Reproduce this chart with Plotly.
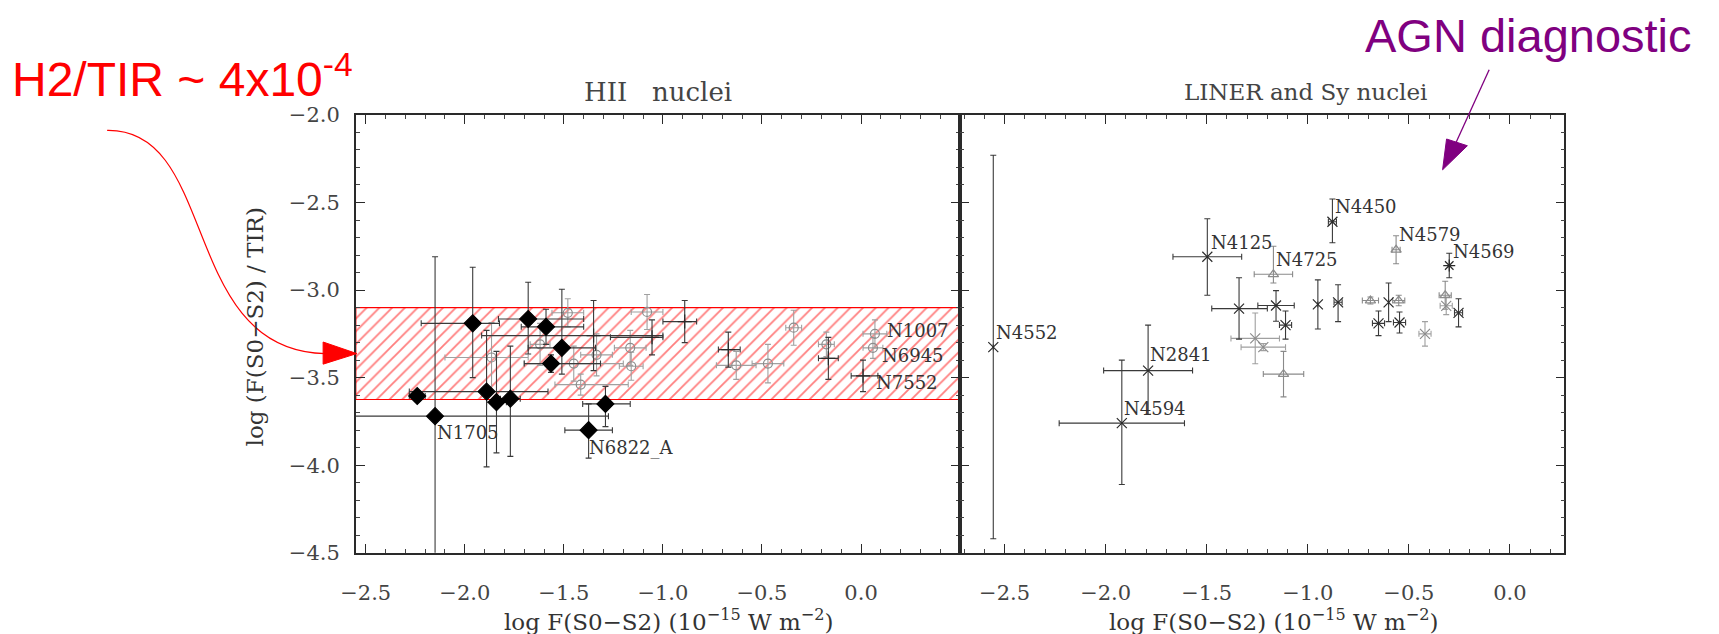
import plotly.graph_objects as go

W, H = 1719, 634

# ---------------- data: HII nuclei (left panel) ----------------
hii_dia_names = ["N1705", "", "", "", "", "", "", "", "", "", "", "N6822_A"]
hii_dia_x = [-2.15, -1.96, -1.68, -1.59, -1.51, -1.565, -2.24, -1.89, -1.84, -1.77, -1.29, -1.375]
hii_dia_y = [-3.72, -3.19, -3.165, -3.21, -3.33, -3.42, -3.605, -3.58, -3.64, -3.62, -3.65, -3.80]
hii_dia_exm = [0.90, 0.26, 0.15, 0.125, 0.17, 0.135, 0.04, 0.39, 0.05, 0.05, 0.115, 0.12]
hii_dia_exp = [0.875, 0.135, 0.28, 0.19, 0.17, 0.25, 0.04, 0.31, 0.05, 0.05, 0.125, 0.12]
hii_dia_eym = [0.90, 0.31, 0.20, 0.10, 0.15, 0.05, 0.03, 0.43, 0.29, 0.33, 0.13, 0.16]
hii_dia_eyp = [0.91, 0.32, 0.21, 0.10, 0.335, 0.05, 0.03, 0.35, 0.29, 0.30, 0.10, 0.15]

hii_circ_names = ["", "", "", "", "", "", "", "", "", "", "", "", "", "N1007", "N6945"]
hii_circ_x = [-1.62, -1.865, -1.45, -1.335, -1.165, -1.16, -1.08, -1.48, -1.415, -0.63, -0.47, -0.34, -0.175, 0.07, 0.06]
hii_circ_y = [-3.31, -3.385, -3.42, -3.37, -3.33, -3.435, -3.125, -3.13, -3.54, -3.43, -3.42, -3.215, -3.31, -3.25, -3.33]
hii_circ_exm = [0.05, 0.235, 0.25, 0.08, 0.08, 0.06, 0.08, 0.08, 0.13, 0.10, 0.08, 0.04, 0.04, 0.06, 0.05]
hii_circ_exp = [0.05, 0.185, 0.25, 0.08, 0.08, 0.06, 0.08, 0.08, 0.24, 0.10, 0.08, 0.04, 0.04, 0.06, 0.05]
hii_circ_ey = [0.12, 0.20, 0.10, 0.12, 0.10, 0.08, 0.10, 0.08, 0.06, 0.08, 0.11, 0.10, 0.07, 0.08, 0.06]

hii_plus_names = ["", "", "", "", "", "N7552"]
hii_plus_x = [-1.35, -1.055, -0.89, -0.67, -0.165, 0.01]
hii_plus_y = [-3.26, -3.27, -3.18, -3.34, -3.39, -3.49]
hii_plus_exm = [0.565, 0.21, 0.11, 0.05, 0.05, 0.06]
hii_plus_exp = [0.35, 0.055, 0.06, 0.06, 0.05, 0.075]
hii_plus_ey = [0.20, 0.10, 0.12, 0.10, 0.12, 0.09]

band_y = [-3.10, -3.625]          # H2/TIR ~ 4e-4 band

# ---------------- data: LINER and Sy nuclei (right panel) ----------------
agn_x_names = ["N4552", "N2841", "N4594", "N4125", "", "", "", "", "", "N4450", "", "", "", ""]
agn_x_x = [-2.556, -1.79, -1.92, -1.497, -1.34, -1.157, -1.11, -0.95, -0.85, -0.878, -0.60, -0.65, -0.546, -0.254]
agn_x_y = [-3.326, -3.46, -3.76, -2.81, -3.106, -3.088, -3.20, -3.082, -3.07, -2.61, -3.07, -3.19, -3.185, -3.13]
agn_x_exm = [0.0, 0.22, 0.31, 0.17, 0.135, 0.09, 0.03, 0.0, 0.02, 0.02, 0.0, 0.03, 0.03, 0.02]
agn_x_exp = [0.0, 0.22, 0.31, 0.17, 0.14, 0.09, 0.03, 0.0, 0.02, 0.02, 0.0, 0.03, 0.03, 0.02]
agn_x_eym = [1.094, 0.25, 0.35, 0.22, 0.174, 0.09, 0.08, 0.14, 0.11, 0.12, 0.11, 0.07, 0.06, 0.08]
agn_x_eyp = [1.096, 0.26, 0.36, 0.217, 0.176, 0.085, 0.08, 0.14, 0.10, 0.13, 0.11, 0.07, 0.06, 0.08]

agn_gx_x = [-1.26, -1.22, -0.42, -0.315]
agn_gx_y = [-3.276, -3.326, -3.25, -3.09]
agn_gx_ex = [0.12, 0.11, 0.03, 0.03]
agn_gx_ey = [0.145, 0.02, 0.07, 0.05]

agn_tri_names = ["N4725", "", "", "", "N4579", ""]
agn_tri_x = [-1.17, -1.12, -0.69, -0.55, -0.563, -0.32]
agn_tri_y = [-2.91, -3.48, -3.06, -3.06, -2.77, -3.03]
agn_tri_ex = [0.095, 0.10, 0.04, 0.03, 0.02, 0.03]
agn_tri_eym = [0.05, 0.13, 0.02, 0.03, 0.08, 0.08]
agn_tri_eyp = [0.16, 0.13, 0.02, 0.03, 0.08, 0.08]

agn_ast_names = ["N4569"]
agn_ast_x = [-0.30]
agn_ast_y = [-2.86]
agn_ast_ey = [0.07]

xticks = [-2.5, -2.0, -1.5, -1.0, -0.5, 0.0]
xticktext = ["\u22122.5", "\u22122.0", "\u22121.5", "\u22121.0", "\u22120.5", "0.0"]
yticks = [-4.5, -4.0, -3.5, -3.0, -2.5, -2.0]
yticktext = ["\u22124.5", "\u22124.0", "\u22123.5", "\u22123.0", "\u22122.5", "\u22122.0"]

left_xrange = [-2.55, 0.5]
right_xrange = [-2.72, 0.27]
yrange = [-4.5, -2.0]

# ---------------- style ----------------
INK = "#2a2a2a"
GRAY = "#8c8c8c"
SERIF = "DejaVu Serif"
px_l, px_m, px_r = 343, 953, 1563
py_t, py_b = 107, 562


def fx(px):
    return px / W


def fy(py):
    return 1 - py / H


fig = go.Figure()


def add_pts(xs, ys, xa, ya, symbol, size, color, ecolor, exm=None, exp=None, eym=None, eyp=None,
            lw=1.2):
    marker = dict(symbol=symbol, size=size, color=color, line=dict(color=color, width=lw))
    kw = {}
    if exp is not None:
        kw["error_x"] = dict(type="data", symmetric=False, array=exp,
                             arrayminus=exm if exm is not None else exp,
                             color=ecolor, thickness=1.1, width=3)
    if eyp is not None:
        kw["error_y"] = dict(type="data", symmetric=False, array=eyp,
                             arrayminus=eym if eym is not None else eyp,
                             color=ecolor, thickness=1.1, width=3)
    fig.add_trace(go.Scatter(x=xs, y=ys, mode="markers", xaxis=xa, yaxis=ya,
                             marker=marker, showlegend=False, hoverinfo="skip", **kw))


# hatched band (left panel)
fig.add_trace(go.Scatter(
    x=[left_xrange[0], left_xrange[1], left_xrange[1], left_xrange[0], left_xrange[0]],
    y=[band_y[0], band_y[0], band_y[1], band_y[1], band_y[0]],
    mode="lines", fill="toself", xaxis="x", yaxis="y",
    line=dict(color="red", width=1.2),
    fillcolor="rgba(0,0,0,0)",
    fillpattern=dict(shape="/", fgcolor="red", bgcolor="rgba(255,255,255,0)", size=9, solidity=0.2),
    showlegend=False, hoverinfo="skip"))

# left panel points
add_pts(hii_circ_x, hii_circ_y, "x", "y", "circle-open", 9, GRAY, "#a0a0a0",
        hii_circ_exm, hii_circ_exp, hii_circ_ey, hii_circ_ey)
add_pts(hii_plus_x, hii_plus_y, "x", "y", "cross-thin", 10, INK, "#3a3a3a",
        hii_plus_exm, hii_plus_exp, hii_plus_ey, hii_plus_ey)
add_pts(hii_dia_x, hii_dia_y, "x", "y", "diamond", 13, "black", "#3a3a3a",
        hii_dia_exm, hii_dia_exp, hii_dia_eym, hii_dia_eyp)

# right panel points
add_pts(agn_gx_x, agn_gx_y, "x2", "y2", "x-thin", 10, GRAY, "#a0a0a0",
        agn_gx_ex, agn_gx_ex, agn_gx_ey, agn_gx_ey)
add_pts(agn_tri_x, agn_tri_y, "x2", "y2", "triangle-up-open", 9, GRAY, "#8a8a8a",
        agn_tri_ex, agn_tri_ex, agn_tri_eym, agn_tri_eyp)
add_pts(agn_x_x, agn_x_y, "x2", "y2", "x-thin", 10, INK, "#3a3a3a",
        agn_x_exm, agn_x_exp, agn_x_eym, agn_x_eyp)
add_pts(agn_ast_x, agn_ast_y, "x2", "y2", "asterisk", 10, INK, "#3a3a3a",
        None, None, agn_ast_ey, agn_ast_ey)

# point labels (offsets in pixels)
label_shift = {
    "N4552": (1, 15), "N2841": (0, 16), "N4594": (0, 15), "N4125": (2, 14),
    "N4725": (1, 15), "N4450": (1, 15), "N4579": (1, 15), "N4569": (2, 14),
    "N1705": (0, -16), "N6822_A": (-2, -18), "N1007": (10, 3), "N6945": (7, -8),
    "N7552": (11, -7),
}
LABEL_FONT = dict(family=SERIF, size=18, color="#333")
annotations = []
for names, xs, ys, xa, ya in [
    (hii_dia_names, hii_dia_x, hii_dia_y, "x", "y"),
    (hii_circ_names, hii_circ_x, hii_circ_y, "x", "y"),
    (hii_plus_names, hii_plus_x, hii_plus_y, "x", "y"),
    (agn_x_names, agn_x_x, agn_x_y, "x2", "y2"),
    (agn_tri_names, agn_tri_x, agn_tri_y, "x2", "y2"),
    (agn_ast_names, agn_ast_x, agn_ast_y, "x2", "y2"),
]:
    for n, xv, yv in zip(names, xs, ys):
        if n:
            dx, dy = label_shift[n]
            annotations.append(dict(x=xv, y=yv, xref=xa, yref=ya, text=n, showarrow=False,
                                    xanchor="left", yanchor="middle", xshift=dx, yshift=dy,
                                    font=LABEL_FONT))

XTITLE = "log F(S0\u2212S2) (10<sup>\u221215</sup> W m<sup>\u22122</sup>)"
# titles and axis titles
annotations += [
    dict(x=fx(648), y=fy(83), xref="paper", yref="paper", text="HII\u00a0\u00a0\u00a0nuclei",
         showarrow=False, xanchor="center", yanchor="middle",
         font=dict(family=SERIF, size=26, color="#444")),
    dict(x=fx(1302), y=fy(83), xref="paper", yref="paper", text="LINER and Sy nuclei",
         showarrow=False, xanchor="center", yanchor="middle",
         font=dict(family=SERIF, size=23, color="#444")),
    dict(x=fx(659), y=fy(632), xref="paper", yref="paper", text=XTITLE,
         showarrow=False, xanchor="center", yanchor="middle",
         font=dict(family=SERIF, size=23, color="#333")),
    dict(x=fx(1270), y=fy(632), xref="paper", yref="paper", text=XTITLE,
         showarrow=False, xanchor="center", yanchor="middle",
         font=dict(family=SERIF, size=23, color="#333")),
    dict(x=fx(241), y=fy(327), xref="paper", yref="paper",
         text="log (F(S0\u2212S2) / TIR)", textangle=-90,
         showarrow=False, xanchor="center", yanchor="middle",
         font=dict(family=SERIF, size=23, color="#333")),
    dict(x=fx(-6), y=fy(67), xref="paper", yref="paper",
         text="H2/TIR ~ 4x10<sup>-4</sup>",
         showarrow=False, xanchor="left", yanchor="middle",
         font=dict(family="Liberation Sans", size=48, color="red")),
    dict(x=fx(1360), y=fy(24), xref="paper", yref="paper",
         text="AGN diagnostic",
         showarrow=False, xanchor="left", yanchor="middle",
         font=dict(family="Liberation Sans", size=47, color="#800080")),
]


# arrows (decorations, in pixel space)
def P(px, py):
    return f"{fx(px):.5f},{fy(py):.5f}"


shapes = [
    dict(type="path", xref="paper", yref="paper",
         path=f"M {P(92,123)} C {P(205,121)} {P(165,352)} {P(312,355)}",
         line=dict(color="red", width=1.2)),
    dict(type="path", xref="paper", yref="paper",
         path=f"M {P(310,343)} L {P(344,355)} L {P(310,366)} Z",
         line=dict(color="red", width=1), fillcolor="red"),
    dict(type="line", xref="paper", yref="paper",
         x0=fx(1487), y0=fy(60), x1=fx(1453), y1=fy(137),
         line=dict(color="#800080", width=1.3)),
    dict(type="path", xref="paper", yref="paper",
         path=f"M {P(1440,164)} L {P(1444,132)} L {P(1465,139)} Z",
         line=dict(color="#800080", width=1), fillcolor="#800080"),
]

axis_common = dict(showgrid=False, zeroline=False, showline=True, linecolor=INK, linewidth=1.6,
                   mirror="ticks", ticks="inside", ticklen=9, tickwidth=1.3, tickcolor=INK,
                   minor=dict(dtick=0.1, ticks="inside", ticklen=4, tickwidth=1, tickcolor="#444"),
                   tickfont=dict(family=SERIF, size=21, color="#444"))

fig.update_layout(
    width=W, height=H, margin=dict(l=0, r=0, t=0, b=0),
    paper_bgcolor="white", plot_bgcolor="white",
    xaxis=dict(domain=[fx(px_l), fx(px_m)], range=left_xrange, tickvals=xticks, ticktext=xticktext,
               anchor="y", ticklabelstandoff=20, **axis_common),
    xaxis2=dict(domain=[fx(px_m), fx(px_r)], range=right_xrange, tickvals=xticks, ticktext=xticktext,
                anchor="y2", ticklabelstandoff=20, **axis_common),
    yaxis=dict(domain=[fy(py_b), fy(py_t)], range=yrange, tickvals=yticks, ticktext=yticktext,
               anchor="x", ticklabelstandoff=10, **axis_common),
    yaxis2=dict(domain=[fy(py_b), fy(py_t)], range=yrange, tickvals=yticks, showticklabels=False,
                anchor="x2", **axis_common),
    annotations=annotations, shapes=shapes,
)

fig.write_html("out.html")
